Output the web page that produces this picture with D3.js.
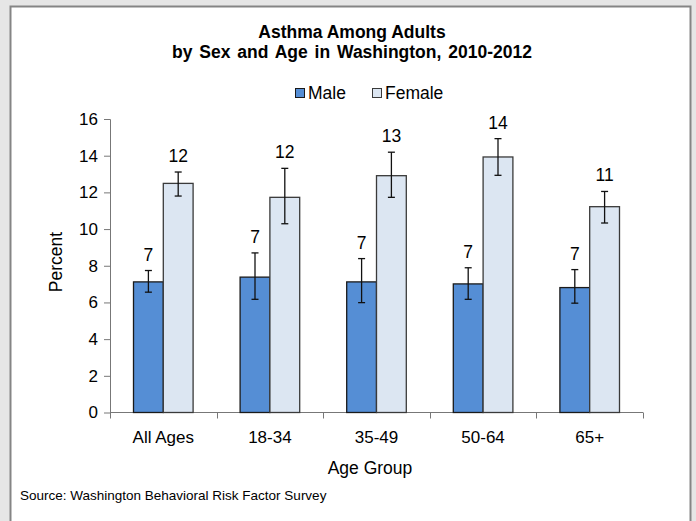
<!DOCTYPE html>
<html>
<head>
<meta charset="utf-8">
<script src="https://cdn.jsdelivr.net/npm/d3@7"></script>
<style>
  body { margin: 0; background: #e6e6e6; }
  svg { display: block; font-family: "Liberation Sans", Arial, sans-serif; }
</style>
</head>
<body>
<div id="chart"></div>
<script>
// values
const ageGroups = ["All Ages", "18-34", "35-49", "50-64", "65+"]
const seriesNames = ["Male", "Female"]
const maleValues = [7.12, 7.38, 7.12, 7.01, 6.81]
const maleLow = [6.56, 6.17, 5.99, 6.17, 5.96]
const maleHigh = [7.74, 8.70, 8.39, 7.89, 7.79]
const femaleValues = [12.49, 11.73, 12.91, 13.93, 11.22]
const femaleLow = [11.80, 10.29, 11.73, 12.93, 10.33]
const femaleHigh = [13.11, 13.31, 14.19, 14.93, 12.05]
const yTicks = [0, 2, 4, 6, 8, 10, 12, 14, 16]

function AsthmaChart() {

  var width = 696;
  var height = 521;
  var margin = { left: 110, right: 53, top: 119, bottom: 109 };
  var innerWidth = 643 - margin.left;
  var innerHeight = 412.5 - margin.top;

  var colors = { Male: "#558ed5", Female: "#dce6f2" };
  var strokes = { Male: "#1a1a1a", Female: "#3a3a3a" };

  // one row per bar
  var bars = [];
  ageGroups.forEach(function(g, i) {
    bars.push({ group: g, series: "Male", value: maleValues[i], lo: maleLow[i], hi: maleHigh[i] });
    bars.push({ group: g, series: "Female", value: femaleValues[i], lo: femaleLow[i], hi: femaleHigh[i] });
  });

  var svg = d3.select("#chart").append("svg")
    .attr("width", width)
    .attr("height", height);

  // white panel with gray frame
  svg.append("rect")
    .attr("x", 10.5).attr("y", 6.5)
    .attr("width", 680).attr("height", 530)
    .attr("fill", "#fff")
    .attr("stroke", "#858585")
    .attr("stroke-width", 2);

  // title
  var title = svg.append("text")
    .attr("text-anchor", "middle")
    .style("font-size", "17.5px")
    .style("font-weight", "bold")
    .attr("fill", "#000");
  title.append("tspan").attr("x", 352).attr("y", 38).text("Asthma Among Adults");
  title.append("tspan").attr("x", 352).attr("y", 58)
    .style("word-spacing", "2px")
    .text("by Sex and Age in Washington, 2010-2012");

  // legend
  var legendX = [295, 372];
  var legend = svg.selectAll(".legend")
    .data(seriesNames)
    .enter().append("g")
    .attr("class", "legend")
    .attr("transform", (d, i) => `translate(${legendX[i]}, 88)`);
  legend.append("rect")
    .attr("x", 0.5).attr("y", 0.5)
    .attr("width", 9).attr("height", 9)
    .attr("fill", d => colors[d])
    .attr("stroke", d => strokes[d]);
  legend.append("text")
    .attr("x", 13).attr("y", 11)
    .style("font-size", "17.5px")
    .text(d => d);

  var g = svg.append("g")
    .attr("transform", "translate(" + margin.left + "," + margin.top + ")");

  var xScale = d3.scaleBand()
    .domain(ageGroups)
    .range([0, innerWidth]);

  var xInner = d3.scaleBand()
    .domain(seriesNames)
    .range([23.5, xScale.bandwidth() - 23.5]);

  var yScale = d3.scaleLinear()
    .domain([0, 16])
    .range([innerHeight, 0]);

  // y axis
  var yAxis = d3.axisLeft(yScale)
    .tickValues(yTicks)
    .tickSize(6)
    .tickPadding(6);
  var yAxisG = g.append("g").call(yAxis);
  yAxisG.select(".domain").attr("stroke", "#777").attr("d", "M-6,0.5H0.5V" + innerHeight);
  yAxisG.selectAll(".tick line").attr("stroke", "#777");
  yAxisG.selectAll(".tick text")
    .style("font-size", "17px")
    .attr("fill", "#000")
    .attr("font-family", "Liberation Sans, Arial, sans-serif");

  // x axis with ticks at band edges
  var xAxisG = g.append("g")
    .attr("transform", "translate(0," + innerHeight + ")");
  xAxisG.append("line")
    .attr("x1", 0).attr("x2", innerWidth)
    .attr("stroke", "#777");
  xAxisG.selectAll(".edge")
    .data(d3.range(ageGroups.length + 1))
    .enter().append("line")
    .attr("class", "edge")
    .attr("x1", i => Math.round(i * xScale.step()) + 0.5)
    .attr("x2", i => Math.round(i * xScale.step()) + 0.5)
    .attr("y1", 0).attr("y2", 6)
    .attr("stroke", "#777");
  xAxisG.selectAll(".cat")
    .data(ageGroups)
    .enter().append("text")
    .attr("class", "cat")
    .attr("x", d => xScale(d) + xScale.bandwidth() / 2)
    .attr("y", 30)
    .attr("text-anchor", "middle")
    .style("font-size", "17px")
    .text(d => d);

  // axis titles
  svg.append("text")
    .attr("transform", "translate(62,262) rotate(-90)")
    .attr("text-anchor", "middle")
    .style("font-size", "17.5px")
    .text("Percent");
  svg.append("text")
    .attr("x", 370).attr("y", 474)
    .attr("text-anchor", "middle")
    .style("font-size", "17.5px")
    .text("Age Group");

  // bars
  g.selectAll(".bar")
    .data(bars)
    .enter().append("rect")
    .attr("class", "bar")
    .attr("x", d => xScale(d.group) + xInner(d.series))
    .attr("y", d => yScale(d.value))
    .attr("width", xInner.bandwidth())
    .attr("height", d => innerHeight - yScale(d.value))
    .attr("fill", d => colors[d.series])
    .attr("stroke", d => strokes[d.series])
    .attr("stroke-width", 1.3);

  // error bars
  var err = g.selectAll(".err")
    .data(bars)
    .enter().append("g")
    .attr("class", "err")
    .attr("transform", d => `translate(${xScale(d.group) + xInner(d.series) + xInner.bandwidth() / 2},0)`);
  err.append("line")
    .attr("y1", d => yScale(d.lo)).attr("y2", d => yScale(d.hi))
    .attr("stroke", "#111").attr("stroke-width", 1.3);
  err.append("line")
    .attr("x1", -3.5).attr("x2", 3.5)
    .attr("y1", d => yScale(d.lo)).attr("y2", d => yScale(d.lo))
    .attr("stroke", "#111").attr("stroke-width", 1.3);
  err.append("line")
    .attr("x1", -3.5).attr("x2", 3.5)
    .attr("y1", d => yScale(d.hi)).attr("y2", d => yScale(d.hi))
    .attr("stroke", "#111").attr("stroke-width", 1.3);

  // value labels above the error bars
  err.append("text")
    .attr("y", d => yScale(d.hi) - 10)
    .attr("text-anchor", "middle")
    .style("font-size", "17.5px")
    .text(d => d3.format(".0f")(d.value));

  // source note
  svg.append("text")
    .attr("x", 20).attr("y", 500)
    .style("font-size", "13.5px")
    .text("Source: Washington Behavioral Risk Factor Survey");
}

AsthmaChart()
</script>
</body>
</html>
